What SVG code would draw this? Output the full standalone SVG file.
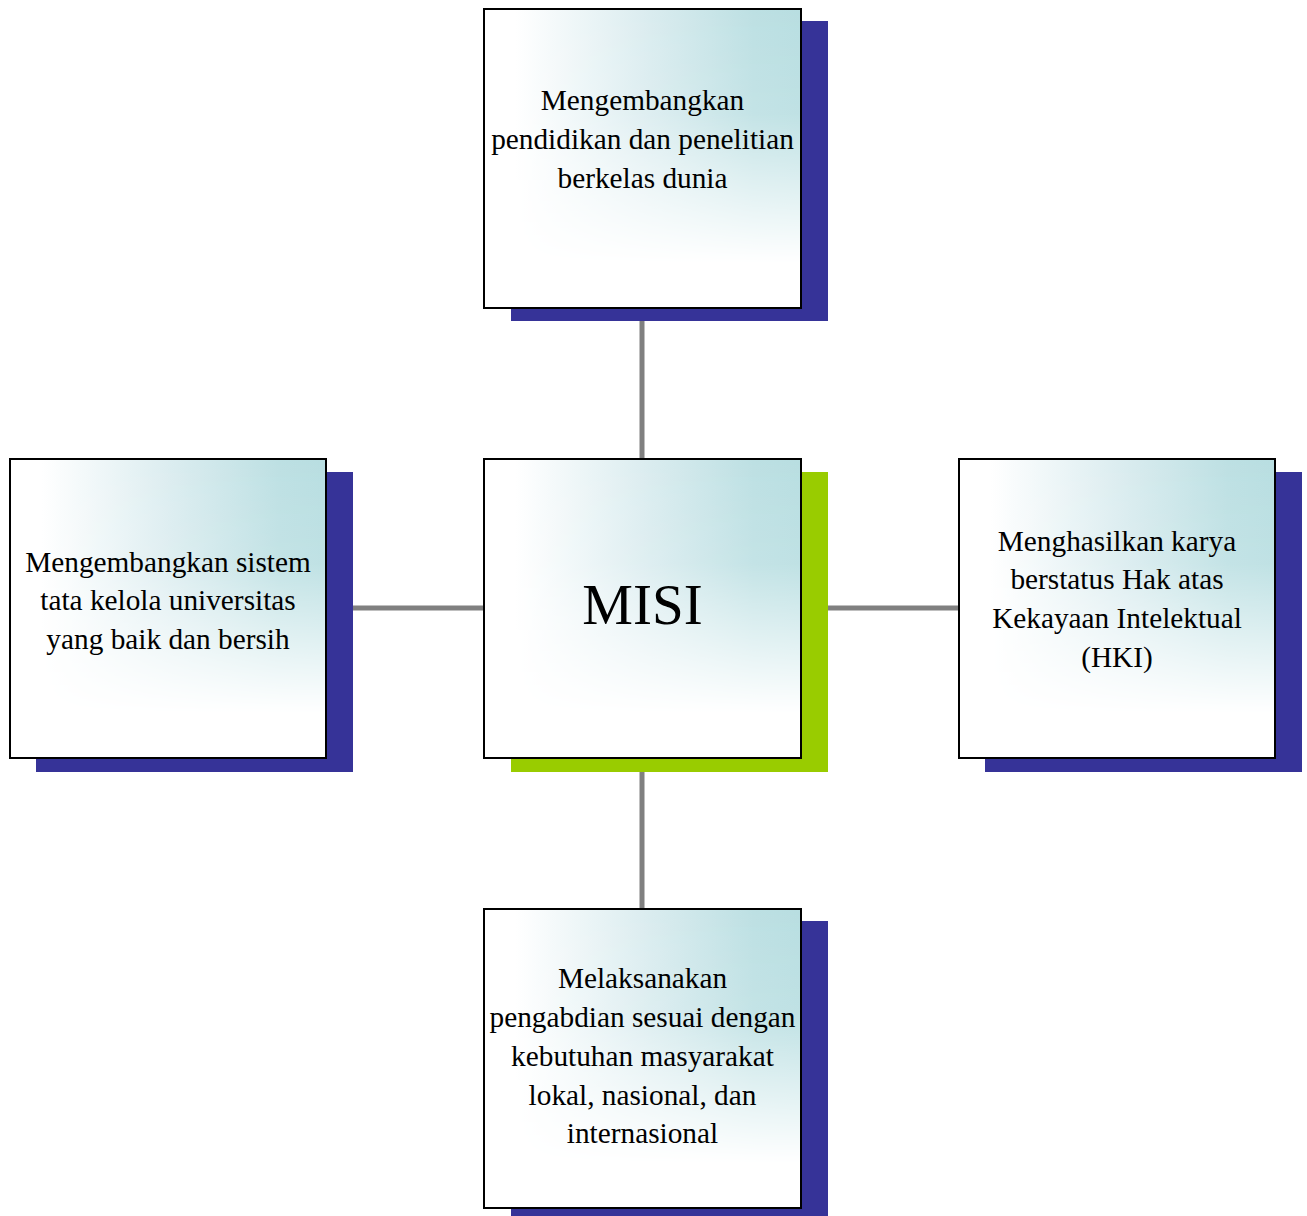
<svg xmlns="http://www.w3.org/2000/svg" width="1307" height="1216" viewBox="0 0 1307 1216">
<style>
.bg{fill:#fff}
.tint{fill:url(#h);mask:url(#m)}
.box{fill:none;stroke:#000;stroke-width:2}
.sh{fill:#363398}
.shg{fill:#99cc00}
.t{font-family:"Liberation Serif","Times New Roman",serif;font-size:29.3px;fill:#000;text-anchor:middle}
.big{font-size:57px}
.c{stroke:#808080;stroke-width:5;fill:none}
</style>
<defs>
<linearGradient id="h" x1="0" y1="0" x2="1" y2="0">
<stop offset="0.1" stop-color="#ffffff"/>
<stop offset="0.5" stop-color="#dcedf0"/>
<stop offset="0.85" stop-color="#bde0e3"/>
<stop offset="1" stop-color="#b8dee1"/>
</linearGradient>
<linearGradient id="v" x1="0" y1="0" x2="0" y2="1">
<stop offset="0" stop-color="#fff"/>
<stop offset="0.35" stop-color="#fff" stop-opacity="0.9"/>
<stop offset="0.85" stop-color="#fff" stop-opacity="0"/>
</linearGradient>
<mask id="m" maskContentUnits="objectBoundingBox">
<rect width="1" height="1" fill="url(#v)"/>
</mask>
</defs>
<rect width="1307" height="1216" fill="#fff"/>
<g id="connectors">
<line class="c" x1="642" y1="308" x2="642" y2="459"/>
<line class="c" x1="642" y1="758" x2="642" y2="909"/>
<line class="c" x1="353" y1="608" x2="484" y2="608"/>
<line class="c" x1="828" y1="608" x2="959" y2="608"/>
</g>
<g id="top">
<rect class="sh" x="511" y="21" width="317" height="300"/>
<rect class="bg" x="484" y="9" width="317" height="299"/>
<rect class="tint" x="484" y="9" width="317" height="299"/>
<rect class="box" x="484" y="9" width="317" height="299"/>
<text class="t" x="642.5" y="110">Mengembangkan</text>
<text class="t" x="642.5" y="149">pendidikan dan penelitian</text>
<text class="t" x="642.5" y="188">berkelas dunia</text>
</g>
<g id="center">
<rect class="shg" x="511" y="472" width="317" height="300"/>
<rect class="bg" x="484" y="459" width="317" height="299"/>
<rect class="tint" x="484" y="459" width="317" height="299"/>
<rect class="box" x="484" y="459" width="317" height="299"/>
<text class="t big" x="642.5" y="624">MISI</text>
</g>
<g id="left">
<rect class="sh" x="36" y="472" width="317" height="300"/>
<rect class="bg" x="10" y="459" width="316" height="299"/>
<rect class="tint" x="10" y="459" width="316" height="299"/>
<rect class="box" x="10" y="459" width="316" height="299"/>
<text class="t" x="168" y="572">Mengembangkan sistem</text>
<text class="t" x="168" y="610">tata kelola universitas</text>
<text class="t" x="168" y="649">yang baik dan bersih</text>
</g>
<g id="right">
<rect class="sh" x="985" y="472" width="317" height="300"/>
<rect class="bg" x="959" y="459" width="316" height="299"/>
<rect class="tint" x="959" y="459" width="316" height="299"/>
<rect class="box" x="959" y="459" width="316" height="299"/>
<text class="t" x="1117" y="551">Menghasilkan karya</text>
<text class="t" x="1117" y="589">berstatus Hak atas</text>
<text class="t" x="1117" y="628">Kekayaan Intelektual</text>
<text class="t" x="1117" y="667">(HKI)</text>
</g>
<g id="bottom">
<rect class="sh" x="511" y="921" width="317" height="300"/>
<rect class="bg" x="484" y="909" width="317" height="299"/>
<rect class="tint" x="484" y="909" width="317" height="299"/>
<rect class="box" x="484" y="909" width="317" height="299"/>
<text class="t" x="642.5" y="988">Melaksanakan</text>
<text class="t" x="642.5" y="1027">pengabdian sesuai dengan</text>
<text class="t" x="642.5" y="1066">kebutuhan masyarakat</text>
<text class="t" x="642.5" y="1105">lokal, nasional, dan</text>
<text class="t" x="642.5" y="1143">internasional</text>
</g>
</svg>
